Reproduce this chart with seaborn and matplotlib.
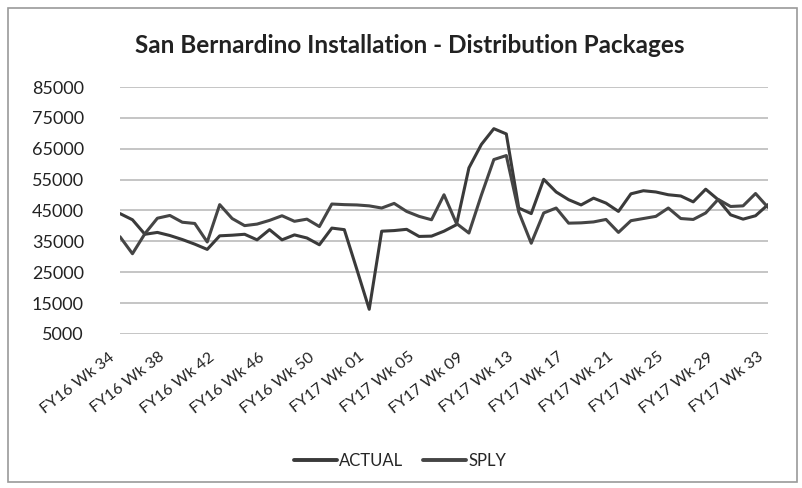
import pandas as pd
import seaborn as sns
import matplotlib.pyplot as plt
from matplotlib.patches import Rectangle
from matplotlib.transforms import ScaledTranslation

# --- DATA ---
weeks = [f"FY16 Wk {w}" for w in range(34, 54)] + [f"FY17 Wk {w:02d}" for w in range(1, 34)]

actual = [44000, 42000, 37300, 37900, 36900, 35600, 34100, 32400, 36800, 37000,
          37300, 35500, 38800, 35500, 37100, 36100, 33900, 39300, 38800, 26000,
          13000, 38300, 38500, 38900, 36600, 36700, 38300, 40400, 58800, 66400,
          71500, 69800, 45800, 44000, 55100, 51000, 48500, 46800, 49000, 47400,
          44700, 50400, 51400, 51000, 50100, 49700, 47800, 51900, 48500, 43600,
          42200, 43300, 46900]

sply = [36500, 31000, 37500, 42500, 43400, 41200, 40800, 34800, 46900, 42400,
        40100, 40600, 41800, 43300, 41500, 42200, 39800, 47100, 46900, 46800,
        46500, 45800, 47300, 44700, 43100, 42000, 50100, 40800, 37700, 50000,
        61500, 62800, 44500, 34400, 44200, 45800, 40900, 41000, 41300, 42100,
        37900, 41700, 42400, 43100, 45800, 42400, 42100, 44200, 48600, 46300,
        46500, 50500, 46000]

y_ticks = [5000, 15000, 25000, 35000, 45000, 55000, 65000, 75000, 85000]
series_names = ["ACTUAL", "SPLY"]
series_colors = ["#3a3a3a", "#454545"]

# long form table for seaborn
df = pd.DataFrame({
    "idx": list(range(len(weeks))) * 2,
    "value": actual + sply,
    "series": ["ACTUAL"] * len(actual) + ["SPLY"] * len(sply),
})

# --- PLOTTING ---
sns.set_style("white")
plt.rcParams["font.family"] = ["Lato", "DejaVu Sans"]

fig = plt.figure(figsize=(8.03, 4.88), dpi=100)
ax = fig.add_axes([120 / 803, 1 - 334 / 488, 648 / 803, 247 / 488])

sns.lineplot(data=df, x="idx", y="value", hue="series", hue_order=series_names,
             palette=dict(zip(series_names, series_colors)), linewidth=2.2,
             ax=ax, legend=False)

ax.set_xlim(0, len(weeks) - 1)
ax.set_ylim(5000, 85000)
ax.set_yticks(y_ticks)
ax.set_yticklabels([str(v) for v in y_ticks], fontsize=13, color="#222222")
ax.grid(axis="y", color="#b5b5b5", linewidth=1.1)
ax.set_axisbelow(True)
for s in ax.spines.values():
    s.set_visible(False)
ax.tick_params(axis="both", length=0)
ax.tick_params(axis="y", pad=26)

xt = list(range(0, len(weeks), 4))
ax.set_xticks(xt)
ax.set_xticklabels([weeks[i] for i in xt], rotation=38, ha="right",
                   rotation_mode="anchor", fontsize=11.5, color="#222222")
ax.tick_params(axis="x", pad=10)
shift = ScaledTranslation(-0.11, -0.02, fig.dpi_scale_trans)
for lab in ax.get_xticklabels():
    lab.set_transform(lab.get_transform() + shift)
ax.set_xlabel("")
ax.set_ylabel("")

fig.text(410 / 803, 1 - 46 / 488, "San Bernardino Installation - Distribution Packages",
         ha="center", va="center", fontsize=17.5, fontweight="bold", color="#222222")

handles = [plt.Line2D([], [], color=c, linewidth=2.8) for c in series_colors]
fig.legend(handles, series_names, loc="center", bbox_to_anchor=(400 / 803, 1 - 461 / 488),
           ncol=2, frameon=False, fontsize=12, handlelength=2.6, handletextpad=0.1,
           columnspacing=1.2)

# chart border like the Excel frame
fig.patches.append(Rectangle((8 / 803, 1 - 482 / 488), 789 / 803, 474 / 488,
                             transform=fig.transFigure, fill=False,
                             edgecolor="#9a9a9a", linewidth=1.2))

plt.savefig("out.png", dpi=100)
